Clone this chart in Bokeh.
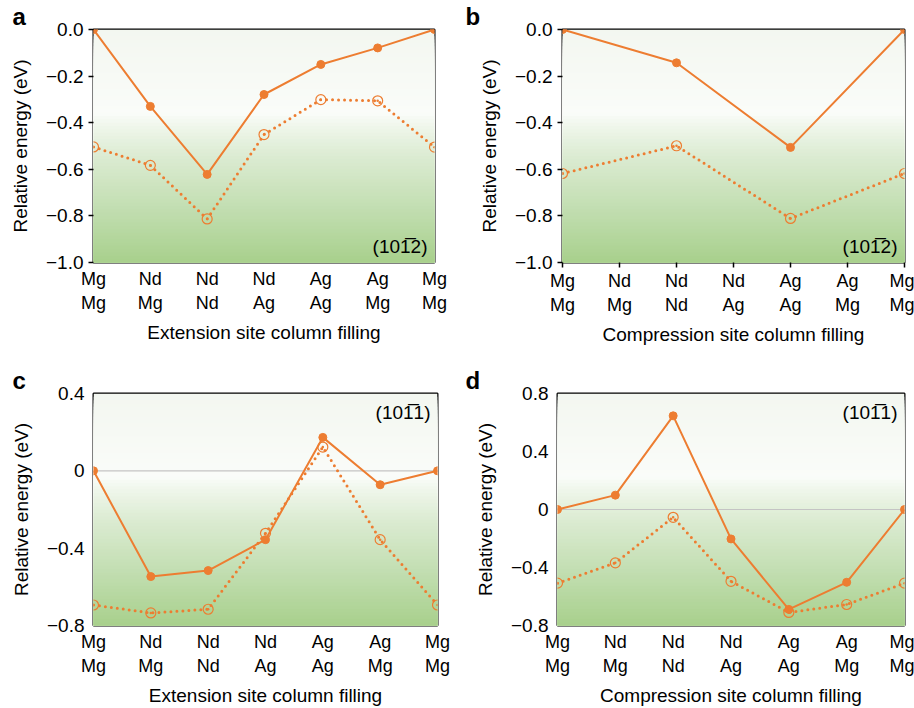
import numpy as np
from bokeh.plotting import figure
from bokeh.layouts import column, row
from bokeh.models import Range1d, FixedTicker, BoxAnnotation, Span, Label
from bokeh.embed import file_html
from bokeh.resources import INLINE

# ---------------- data ----------------
x_labels = ["Mg\nMg", "Nd\nMg", "Nd\nNd", "Nd\nAg", "Ag\nAg", "Ag\nMg", "Mg\nMg"]
x_pos = [0, 1, 2, 3, 4, 5, 6]

a_solid = [0.0, -0.33, -0.622, -0.279, -0.15, -0.079, 0.0]
a_dotted = [-0.504, -0.583, -0.813, -0.451, -0.301, -0.306, -0.505]

b_x = [0, 2, 4, 6]
b_solid = [0.0, -0.143, -0.506, 0.0]
b_dotted = [-0.618, -0.499, -0.811, -0.618]

c_solid = [0.0, -0.547, -0.516, -0.356, 0.173, -0.072, 0.0]
c_dotted = [-0.694, -0.735, -0.716, -0.323, 0.123, -0.356, -0.694]

d_solid = [0.0, 0.099, 0.646, -0.203, -0.689, -0.502, 0.0]
d_dotted = [-0.508, -0.368, -0.054, -0.495, -0.710, -0.655, -0.508]

ab_yticks = [-1.0, -0.8, -0.6, -0.4, -0.2, 0.0]
ab_ylabels = ["\u22121.0", "\u22120.8", "\u22120.6", "\u22120.4", "\u22120.2", "0.0"]
c_yticks = [-0.8, -0.4, 0.0, 0.4]
c_ylabels = ["\u22120.8", "\u22120.4", "0", "0.4"]
d_yticks = [-0.8, -0.4, 0.0, 0.4, 0.8]
d_ylabels = ["\u22120.8", "\u22120.4", "0", "0.4", "0.8"]

plane_1012 = "(101\u03052)"
plane_1011 = "(101\u03051)"
xlab_ext = "Extension site column filling"
xlab_comp = "Compression site column filling"
ylab = "Relative energy (eV)"

ORANGE = "#ed7d31"
FONT = "Liberation Sans"

GRAD_STOPS = [(0.0, "#f3f7f0"), (0.36, "#fafcf9"), (0.42, "#eef6ea"),
              (0.55, "#dbebd1"), (0.75, "#c4dfb4"), (1.0, "#a8d08c")]


def lerp_color(c1, c2, t):
    a = np.array([int(c1[i:i + 2], 16) for i in (1, 3, 5)], float)
    b = np.array([int(c2[i:i + 2], 16) for i in (1, 3, 5)], float)
    c = a + (b - a) * t
    return "#%02x%02x%02x" % tuple(int(round(v)) for v in c)


def grad_color(f):
    for (f0, c0), (f1, c1) in zip(GRAD_STOPS[:-1], GRAD_STOPS[1:]):
        if f <= f1:
            return lerp_color(c0, c1, (f - f0) / (f1 - f0))
    return GRAD_STOPS[-1][1]


def make_panel(letter, w, h, bl, br, bt, bb, ymin, ymax, yticks, ylabels,
               xs1, ys1, xs2, ys2, xlab, plane, plane_top, yticks_on, xticks_on, zero_line):
    p = figure(width=w, height=h, output_backend="svg", toolbar_location=None,
               x_range=Range1d(0, 6), y_range=Range1d(ymin, ymax),
               min_border_left=bl, min_border_right=br, min_border_top=bt, min_border_bottom=bb)
    p.background_fill_color = "white"
    p.border_fill_color = "white"
    p.outline_line_color = "black"
    p.outline_line_width = 2
    p.grid.visible = False

    # panel letter as title
    p.title.text = letter
    p.title.text_font = FONT
    p.title.text_font_style = "bold"
    p.title.text_font_size = "24px"
    p.title.text_color = "black"
    p.title.align = "left"
    p.title.offset = -(bl - 12)
    p.title.standoff = 0

    # vertical gradient background (overlapping bands, top to bottom)
    n = 70
    for i in range(n):
        f0 = i / n
        top = ymax - f0 * (ymax - ymin)
        p.add_layout(BoxAnnotation(top=top, fill_color=grad_color(f0 + 0.5 / n),
                                   fill_alpha=1, line_alpha=0, level="underlay"))
    if zero_line:
        p.add_layout(Span(location=0, dimension="width", line_color="#c4c4c4",
                          line_width=1.2, level="underlay"))

    p.line(xs2, ys2, line_color=ORANGE, line_width=3, line_dash="0 6", line_cap="round")
    p.scatter(xs2, ys2, marker="circle_dot", size=10, fill_color=None,
              line_color=ORANGE, line_width=1.2)
    p.line(xs1, ys1, line_color=ORANGE, line_width=2)
    p.scatter(xs1, ys1, marker="circle", size=8, fill_color=ORANGE, line_color=ORANGE)

    xa = p.xaxis[0]
    xa.ticker = FixedTicker(ticks=x_pos)
    xa.major_label_overrides = {k: v for k, v in zip(x_pos, x_labels)}
    xa.major_label_text_font = FONT
    xa.major_label_text_font_size = "18px"
    xa.major_label_text_color = "black"
    xa.axis_line_color = None
    xa.minor_tick_line_color = None
    xa.major_tick_in = 0
    xa.major_tick_out = 5 if xticks_on else 0
    xa.major_tick_line_color = "black" if xticks_on else None
    xa.major_tick_line_width = 1.5
    xa.major_label_standoff = 3 if xticks_on else 6
    xa.axis_label = xlab
    xa.axis_label_text_font = FONT
    xa.axis_label_text_font_style = "normal"
    xa.axis_label_text_font_size = "19px"
    xa.axis_label_text_color = "black"
    xa.axis_label_standoff = 6

    ya = p.yaxis[0]
    ya.ticker = FixedTicker(ticks=yticks)
    ya.major_label_overrides = {k: v for k, v in zip(yticks, ylabels)}
    ya.major_label_text_font = FONT
    ya.major_label_text_font_size = "19px"
    ya.major_label_text_color = "black"
    ya.axis_line_color = None
    ya.minor_tick_line_color = None
    ya.major_tick_in = 0
    ya.major_tick_out = 5 if yticks_on else 0
    ya.major_tick_line_color = "black" if yticks_on else None
    ya.major_tick_line_width = 1.5
    ya.major_label_standoff = 5 if yticks_on else 9
    ya.axis_label = ylab
    ya.axis_label_text_font = FONT
    ya.axis_label_text_font_style = "normal"
    ya.axis_label_text_font_size = "19px"
    ya.axis_label_text_color = "black"
    ya.axis_label_standoff = 12

    # plane annotation
    if plane_top:
        p.add_layout(Label(x=6, y=ymax, x_offset=-7, y_offset=-8, text=plane,
                           text_font=FONT, text_font_size="19px", text_align="right",
                           text_baseline="top", text_color="black"))
    else:
        p.add_layout(Label(x=6, y=ymin, x_offset=-7, y_offset=6, text=plane,
                           text_font=FONT, text_font_size="19px", text_align="right",
                           text_baseline="bottom", text_color="black"))
    return p


pa = make_panel("a", 453, 354, 93, 19, 28, 90, -1.0, 0.0, ab_yticks, ab_ylabels,
                x_pos, a_solid, x_pos, a_dotted, xlab_ext, plane_1012, False, True, False, False)
pb = make_panel("b", 461, 354, 109, 10, 29, 92, -1.0, 0.0, ab_yticks, ab_ylabels,
                b_x, b_solid, b_x, b_dotted, xlab_comp, plane_1012, False, True, True, False)
pc = make_panel("c", 453, 354, 93, 16, 39, 81, -0.8, 0.4, c_yticks, c_ylabels,
                x_pos, c_solid, x_pos, c_dotted, xlab_ext, plane_1011, True, False, False, True)
pd = make_panel("d", 461, 354, 104, 10, 37, 81, -0.8, 0.8, d_yticks, d_ylabels,
                x_pos, d_solid, x_pos, d_dotted, xlab_comp, plane_1011, True, False, False, True)

layout = column(row(pa, pb), row(pc, pd))
open("out.html", "w").write(file_html(layout, INLINE))
